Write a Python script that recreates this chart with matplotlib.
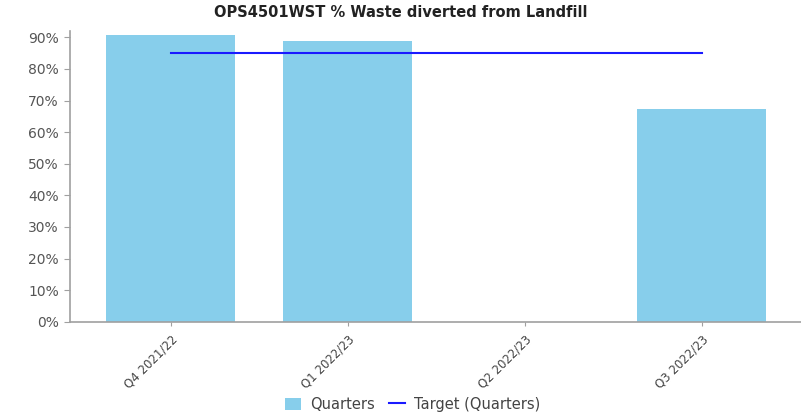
import matplotlib.pyplot as plt
import numpy as np

# quarterly waste diversion figures
quarters = ['Q4 2021/22', 'Q1 2022/23', 'Q2 2022/23', 'Q3 2022/23']
diverted = [90.7, 88.9, np.nan, 67.2]
target = [85, 85, 85, 85]

fig = plt.figure(figsize=(8.01, 4.19), dpi=100)
ax = fig.add_axes([0.0874, 0.232, 0.9126, 0.694])

x = np.arange(len(quarters))
bars = ax.bar(x, np.nan_to_num(diverted), width=0.73, color='#87ceeb', label='Quarters', zorder=2)
line, = ax.plot(x, target, color='#1a1aff', lw=1.5, label='Target (Quarters)', zorder=3)

ax.set_xlim(-0.57, 3.56)
ax.set_ylim(0, 92)
ax.set_yticks(np.arange(0, 91, 10))
ax.set_yticklabels(['{}%'.format(v) for v in range(0, 91, 10)])
ax.set_xticks(x)
ax.set_xticklabels(quarters, rotation=45, ha='right', rotation_mode='anchor')

for side in ['top', 'right']:
    ax.spines[side].set_visible(False)
for side in ['left', 'bottom']:
    ax.spines[side].set_color('#a0a0a0')
    ax.spines[side].set_linewidth(1.2)
ax.tick_params(axis='y', colors='#a0a0a0', labelcolor='#555555', labelsize=10, length=4, pad=4)
ax.tick_params(axis='x', colors='#a0a0a0', labelcolor='#444444', labelsize=8.5, length=3, pad=5)

fig.suptitle('OPS4501WST % Waste diverted from Landfill', x=0.5, y=0.988,
             fontsize=10.5, fontweight='bold', color='#222222')

fig.legend([bars, line], ['Quarters', 'Target (Quarters)'], loc='lower center',
           bbox_to_anchor=(0.515, -0.014), ncol=2, frameon=False,
           fontsize=10.5, handlelength=1.1, handleheight=0.9, columnspacing=1.0,
           handletextpad=0.6, labelcolor='#444444')

fig.savefig('out.png', dpi=100)
